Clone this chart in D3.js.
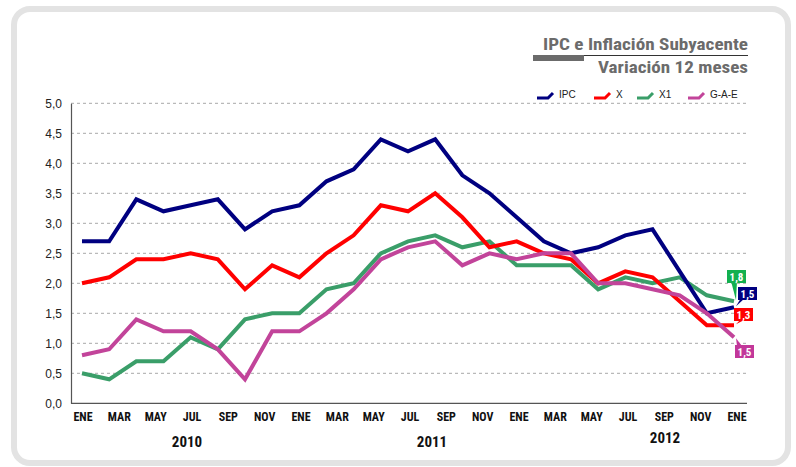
<!DOCTYPE html>
<html>
<head>
<meta charset="utf-8">
<script src="https://cdn.jsdelivr.net/npm/d3@7"></script>
<style>
  body { margin: 0; background: #fff; }
  svg { display: block; font-family: "Liberation Sans", Arial, sans-serif; }
  .narrow { font-family: "Liberation Sans Narrow", "Arial Narrow", "Roboto Condensed", sans-serif; }
</style>
</head>
<body>
<svg width="796" height="467"></svg>
<script>
// meses (ene 2010 - ene 2012)
const months = d3.range(25);
const ipc  = [2.7, 2.7, 3.4, 3.2, 3.3, 3.4, 2.9, 3.2, 3.3, 3.7, 3.9, 4.4, 4.2, 4.4, 3.8, 3.5, 3.1, 2.7, 2.5, 2.6, 2.8, 2.9, 2.2, 1.5, 1.6];
const x0   = [2.0, 2.1, 2.4, 2.4, 2.5, 2.4, 1.9, 2.3, 2.1, 2.5, 2.8, 3.3, 3.2, 3.5, 3.1, 2.6, 2.7, 2.5, 2.4, 2.0, 2.2, 2.1, 1.7, 1.3, 1.3];
const x1   = [0.5, 0.4, 0.7, 0.7, 1.1, 0.9, 1.4, 1.5, 1.5, 1.9, 2.0, 2.5, 2.7, 2.8, 2.6, 2.7, 2.3, 2.3, 2.3, 1.9, 2.1, 2.0, 2.1, 1.8, 1.7];
const gae  = [0.8, 0.9, 1.4, 1.2, 1.2, 0.9, 0.4, 1.2, 1.2, 1.5, 1.9, 2.4, 2.6, 2.7, 2.3, 2.5, 2.4, 2.5, 2.5, 2.0, 2.0, 1.9, 1.8, 1.5, 1.1];

const seriesNames = ['IPC', 'X', 'X1', 'G-A-E'];
const endLabels = ['1,5', '1,3', '1,8', '1,5'];
const monthLabels = ['ENE','MAR','MAY','JUL','SEP','NOV','ENE','MAR','MAY','JUL','SEP','NOV','ENE','MAR','MAY','JUL','SEP','NOV','ENE'];
const years = ['2010', '2011', '2012'];
const yTicks = d3.range(0, 5.01, 0.5);

const colors = ['#000080', '#ff0000', '#3a9e69', '#c2449a'];
const boxColors = ['#000080', '#ff0000', '#12b04f', '#c2379a'];

const svg = d3.select('svg');

// marco redondeado
svg.append('rect')
    .attr('x', 14).attr('y', 9)
    .attr('width', 774).attr('height', 454)
    .attr('rx', 16)
    .attr('fill', 'none')
    .attr('stroke', '#e3e3e3')
    .attr('stroke-width', 6);

const plot = {left: 71, right: 747, top: 103.3, bottom: 403.3};

const x = d3.scaleLinear().domain([0, 24]).range([82, 734]);
const xLab = d3.scalePoint().domain(d3.range(monthLabels.length)).range([83, 737]);
const y = d3.scaleLinear().domain([0, 5]).range([plot.bottom, plot.top]);

// grid
svg.append('g')
    .selectAll('line')
    .data(yTicks.filter(d => d > 0))
    .enter()
    .append('line')
    .attr('x1', plot.left).attr('x2', plot.right)
    .attr('y1', d => y(d)).attr('y2', d => y(d))
    .attr('stroke', '#a8a8a8')
    .attr('stroke-width', 1)
    .attr('stroke-dasharray', '3,3');

// eje y
const yAxis = svg.append('g')
    .attr('transform', `translate(${plot.left},0)`)
    .call(d3.axisLeft(y).tickValues(yTicks).tickSize(0).tickPadding(9)
        .tickFormat(d => d3.format('.1f')(d).replace('.', ',')));
yAxis.select('.domain').attr('stroke', '#555').attr('stroke-width', 1.2);
yAxis.selectAll('text').attr('font-size', 12).attr('fill', '#222')
    .attr('font-family', '"Liberation Sans", Arial, sans-serif');

// eje x
svg.append('line')
    .attr('x1', plot.left).attr('x2', plot.right)
    .attr('y1', plot.bottom).attr('y2', plot.bottom)
    .attr('stroke', '#555').attr('stroke-width', 1.2);

svg.append('g')
    .selectAll('text')
    .data(monthLabels)
    .enter()
    .append('text')
    .attr('class', 'narrow')
    .attr('x', (d, i) => xLab(i))
    .attr('y', 421)
    .attr('text-anchor', 'middle')
    .attr('font-size', 12)
    .attr('font-weight', 'bold')
    .attr('fill', '#111')
    .text(d => d);

const yearPos = [187, 432, 665];
svg.append('g')
    .selectAll('text')
    .data(years)
    .enter()
    .append('text')
    .attr('class', 'narrow')
    .attr('x', (d, i) => yearPos[i])
    .attr('y', (d, i) => i === 2 ? 443 : 447)
    .attr('text-anchor', 'middle')
    .attr('font-size', 15)
    .attr('font-weight', 'bold')
    .attr('fill', '#111')
    .text(d => d);

// lineas
const series = [ipc, x0, x1, gae];
const line = d3.line()
    .x((d, i) => x(months[i]))
    .y(d => y(d));

// orden de dibujo: X1, X, IPC, G-A-E
[2, 1, 0, 3].forEach(k => {
    svg.append('path')
        .datum(series[k])
        .attr('d', line)
        .attr('fill', 'none')
        .attr('stroke', colors[k])
        .attr('stroke-width', 4)
        .attr('stroke-linejoin', 'miter');
});

// etiquetas finales
const boxes = [
    {bx: 738, by: 287, tail: [[741, 298], [745, 298]]},
    {bx: 734, by: 308, tail: [[741, 319], [746, 319]]},
    {bx: 727, by: 270, tail: [[731, 281], [737, 281]]},
    {bx: 735, by: 345, tail: [[737, 346], [742, 346]]}
];
boxes.forEach((b, k) => {
    const last = series[k][series[k].length - 1];
    const ex = x(24), ey = y(last);
    const g = svg.append('g');
    g.append('path')
        .attr('d', `M${b.tail[0]}L${ex + 2},${ey + (ey > b.by ? -1 : 1)}L${b.tail[1]}Z`)
        .attr('fill', boxColors[k]);
    g.append('rect')
        .attr('x', b.bx).attr('y', b.by)
        .attr('width', 19).attr('height', 13)
        .attr('fill', boxColors[k]);
    g.append('text')
        .attr('class', 'narrow')
        .attr('x', b.bx + 9.5).attr('y', b.by + 10.5)
        .attr('text-anchor', 'middle')
        .attr('font-size', 11)
        .attr('font-weight', 'bold')
        .attr('fill', '#fff')
        .text(endLabels[k]);
});

// leyenda
const legendX = [537, 594, 637, 688];
const legend = svg.append('g')
    .selectAll('g')
    .data(seriesNames)
    .enter()
    .append('g')
    .attr('transform', (d, i) => `translate(${legendX[i]},94)`);
legend.append('path')
    .attr('d', 'M0,4L11,4L16,-1')
    .attr('fill', 'none')
    .attr('stroke', (d, i) => colors[i])
    .attr('stroke-width', 3);
legend.append('text')
    .attr('x', 22).attr('y', 4)
    .attr('font-size', 10)
    .attr('fill', '#222')
    .text(d => d);

// titulo
svg.append('text')
    .attr('class', 'narrow')
    .attr('x', 543).attr('y', 50)
    .attr('textLength', 205)
    .attr('lengthAdjust', 'spacingAndGlyphs')
    .attr('font-size', 17)
    .attr('font-weight', 'bold')
    .attr('fill', '#6b6b6b')
    .text('IPC e Inflación  Subyacente');
svg.append('line')
    .attr('x1', 533).attr('x2', 748)
    .attr('y1', 55.5).attr('y2', 55.5)
    .attr('stroke', '#333').attr('stroke-width', 1);
svg.append('rect')
    .attr('x', 533).attr('y', 55)
    .attr('width', 51).attr('height', 6)
    .attr('fill', '#6b6b6b');
svg.append('text')
    .attr('class', 'narrow')
    .attr('x', 598).attr('y', 73)
    .attr('textLength', 150)
    .attr('lengthAdjust', 'spacingAndGlyphs')
    .attr('font-size', 17)
    .attr('font-weight', 'bold')
    .attr('fill', '#6b6b6b')
    .text('Variación 12 meses');
</script>
</body>
</html>
